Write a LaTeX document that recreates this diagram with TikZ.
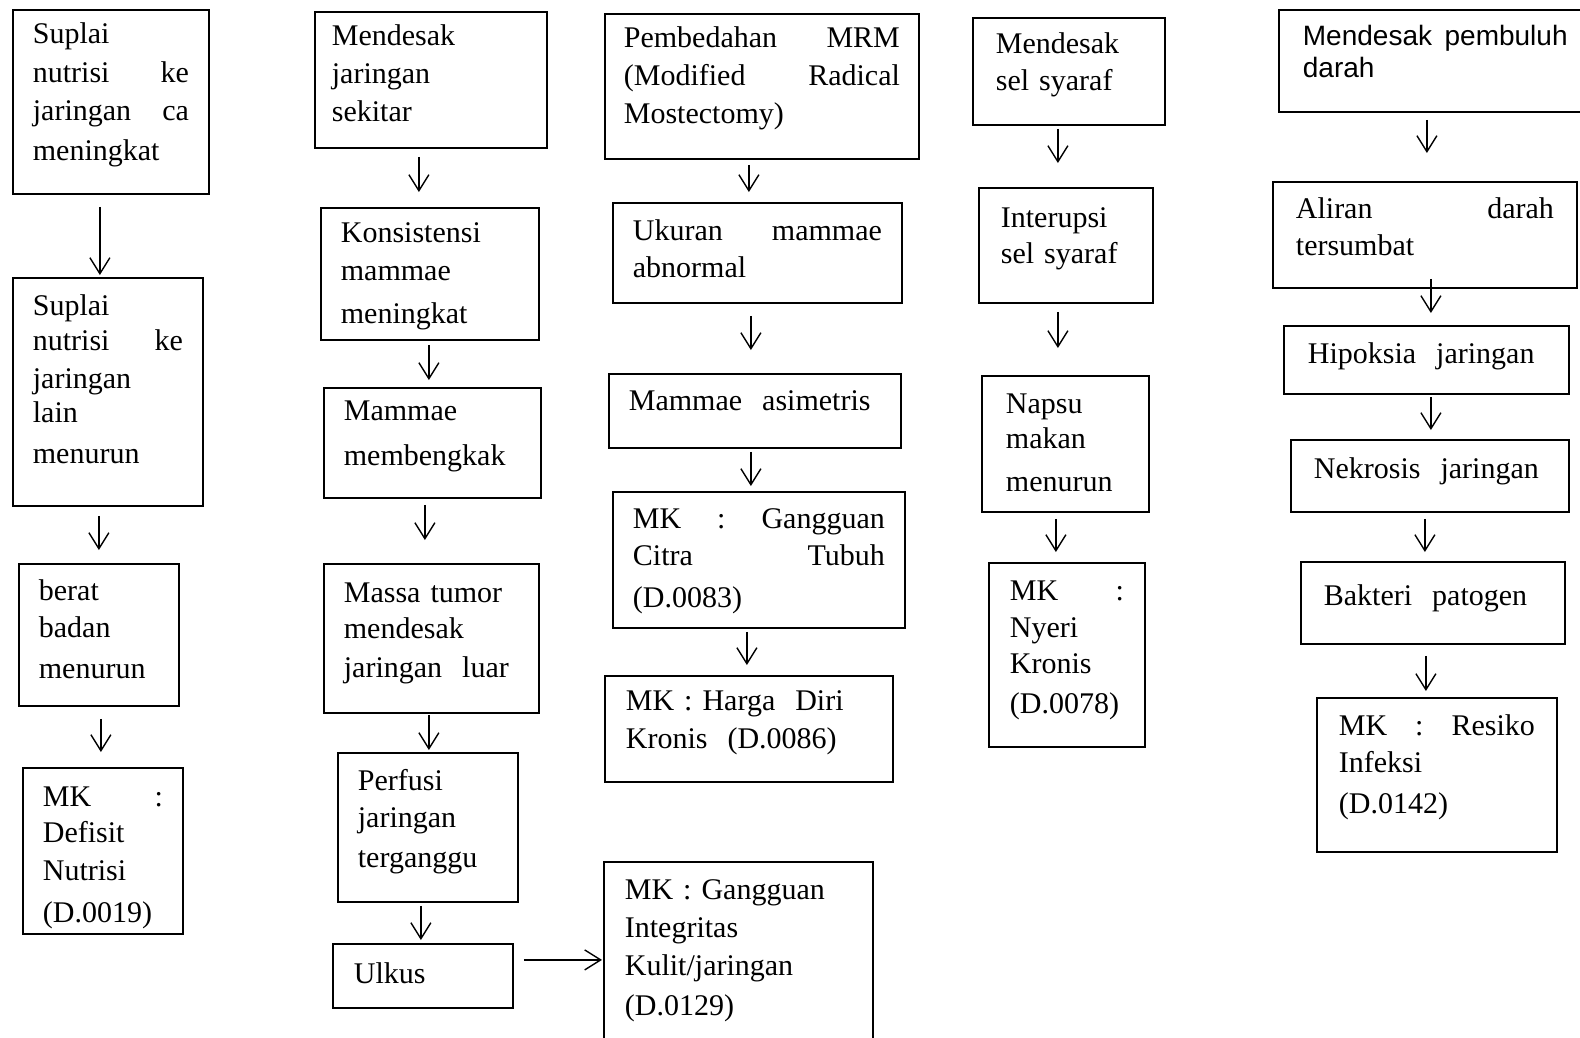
\documentclass[tikz,border=0pt]{standalone}
\usepackage{fontspec}
\setmainfont{Liberation Serif}
\newfontfamily\arialfont{Liberation Sans}
\usetikzlibrary{arrows.meta, calc}

% stretch for justified lines
\newcommand\gap{\hskip 0pt plus 1filll\relax}
% vertical arrow between two stacked boxes
\newcommand\flow[5]{\draw[arr] ($(#1.south)+(#3,#4)$) -- ($(#1.south |- #2.north)+(#3,-#5)$);}

\tikzset{
  card/.style={draw, line width=1.8pt, anchor=north west, inner ysep=0pt, align=left,
    font=\fontsize{30}{38}\selectfont},
  arr/.style={-{Straight Barb[length=16pt,width=20pt]}, line width=1.4pt},
}

\begin{document}
\begin{tikzpicture}[x=1pt, y=-1pt]
  \fill[white] (0,0) rectangle (1580,1037);
  \useasboundingbox (0,0) rectangle (1580,1037);

  % column 1
  \node[card, inner xsep=20pt, text width=156pt, text height=34pt, text depth=150pt] (suplai1) at (12,9)
    {Suplai\\[1pt] nutrisi \gap ke\\ jaringan \gap ca\\[2pt] meningkat};
  \node[card, inner xsep=20pt, text width=150pt, text height=38pt, text depth=190pt] (suplai2) at (12,277)
    {Suplai\\[-3pt] nutrisi \gap ke\\ jaringan\\[-4pt] lain\\[3pt] menurun};
  \node[card, inner xsep=20pt, text width=120pt, text height=37pt, text depth=105pt] (berat) at (18,563)
    {berat\\[-1pt] badan\\[3pt] menurun};
  \node[card, inner xsep=20pt, text width=120pt, text height=39pt, text depth=127pt] (defisit) at (22,767)
    {MK \gap :\\[-2pt] Defisit\\ Nutrisi\\[4pt] (D.0019)};

  % column 2
  \node[card, inner xsep=17pt, text width=198pt, text height=34pt, text depth=102pt] (desakjar) at (314,11)
    {Mendesak\\ jaringan\\ sekitar};
  \node[card, inner xsep=20pt, text width=178pt, text height=35pt, text depth=97pt] (konsist) at (320,207)
    {Konsistensi\\ mammae\\[5pt] meningkat};
  \node[card, inner xsep=20pt, text width=177pt, text height=33pt, text depth=77pt] (bengkak) at (323,387)
    {Mammae\\[7pt] membengkak};
  \node[card, inner xsep=20pt, text width=175pt, text height=39pt, text depth=110pt] (massa) at (323,563)
    {Massa tumor\\[-2pt] mendesak\\[1pt] jaringan\ \ luar};
  \node[card, inner xsep=20pt, text width=140pt, text height=38pt, text depth=111pt] (perfusi) at (337,752)
    {Perfusi\\[-1pt] jaringan\\[2pt] terganggu};
  \node[card, inner xsep=21pt, text width=138pt, text height=40pt, text depth=24pt] (ulkus) at (332,943)
    {Ulkus};
  \node[card, inner xsep=21pt, text width=227pt, text height=38pt, text depth=161pt] (integ) at (603,861)
    {MK : Gangguan\\ Integritas\\ Kulit/jaringan\\[2pt] (D.0129)};

  % column 3
  \node[card, inner xsep=19pt, text width=276pt, text height=34pt, text depth=111pt] (mrm) at (604,13)
    {Pembedahan \gap MRM\\ (Modified \gap Radical\\ Mostectomy)};
  \node[card, inner xsep=20pt, text width=249pt, text height=38pt, text depth=62pt] (ukuran) at (612,202)
    {Ukuran \gap mammae\\[-1pt] abnormal};
  \node[card, inner xsep=20pt, text width=252pt, text height=37pt, text depth=37pt] (asimetris) at (608,373)
    {Mammae\ \ asimetris};
  \node[card, inner xsep=20pt, text width=252pt, text height=37pt, text depth=99pt] (citra) at (612,491)
    {MK \gap : \gap Gangguan\\[-1pt] Citra \gap Tubuh\\[4pt] (D.0083)};
  \node[card, inner xsep=21pt, text width=246pt, text height=35pt, text depth=71pt] (hargadiri) at (604,675)
    {MK : Harga\ \ Diri\\ Kronis\ \ (D.0086)};

  % column 4
  \node[card, inner xsep=23pt, text width=146pt, text height=36pt, text depth=71pt] (desaksyaraf) at (972,17)
    {Mendesak\\[-1pt] sel syaraf};
  \node[card, inner xsep=22pt, text width=130pt, text height=40pt, text depth=75pt] (interupsi) at (978,187)
    {Interupsi\\[-2pt] sel syaraf};
  \node[card, inner xsep=24pt, text width=119pt, text height=38pt, text depth=98pt] (napsu) at (981,375)
    {Napsu\\[-3pt] makan\\[5pt] menurun};
  \node[card, inner xsep=21pt, text width=114pt, text height=38pt, text depth=146pt] (nyeri) at (988,562)
    {MK \gap :\\[-1pt] Nyeri\\[-2pt] Kronis\\[2pt] (D.0078)};

  % column 5
  \node[card, inner xsep=24pt, text width=254pt, text height=36pt, text depth=66pt,
    font=\arialfont\fontsize{28}{32}\selectfont] (desakdarah) at (1278,9)
    {\mbox{Mendesak\hspace{0.45em}pembuluh}\\ darah};
  \node[card, inner xsep=23pt, text width=258pt, text height=37pt, text depth=69pt] (aliran) at (1272,181)
    {Aliran \gap darah\\[-1pt] tersumbat};
  \node[card, inner xsep=24pt, text width=237pt, text height=38pt, text depth=30pt] (hipoksia) at (1283,325)
    {Hipoksia\ \ jaringan};
  \node[card, inner xsep=23pt, text width=232pt, text height=39pt, text depth=33pt] (nekrosis) at (1290,439)
    {Nekrosis\ \ jaringan};
  \node[card, inner xsep=23pt, text width=218pt, text height=44pt, text depth=38pt] (bakteri) at (1300,561)
    {Bakteri\ \ patogen};
  \node[card, inner xsep=22pt, text width=196pt, text height=38pt, text depth=116pt] (infeksi) at (1316,697)
    {MK \gap : \gap Resiko\\[-1pt] Infeksi\\[3pt] (D.0142)};

  % arrows
  \flow{suplai1}{suplai2}{-11}{12}{2}
  \flow{suplai2}{berat}{-9}{9}{13}
  \flow{berat}{defisit}{2}{12}{15}
  \flow{desakjar}{konsist}{-12}{8}{15}
  \flow{konsist}{bengkak}{-1}{4}{7}
  \flow{bengkak}{massa}{-7.5}{6}{23}
  \flow{massa}{perfusi}{-2.5}{1}{2}
  \flow{perfusi}{ulkus}{-7}{3}{3}
  \draw[arr] ($(ulkus.east)+(10,-16)$) -- ($(ulkus.east -| integ.west)+(-1,-16)$);
  \flow{mrm}{ukuran}{-13}{5}{10}
  \flow{ukuran}{asimetris}{-6.5}{12}{23}
  \flow{asimetris}{citra}{-4}{3}{5}
  \flow{citra}{hargadiri}{-12}{3}{10}
  \flow{desaksyaraf}{interupsi}{-11}{3}{24}
  \flow{interupsi}{napsu}{-8}{8}{27}
  \flow{napsu}{nyeri}{-9.5}{6}{10}
  \flow{desakdarah}{aliran}{-3}{7}{28}
  \flow{aliran}{hipoksia}{6}{-10}{12}
  \flow{hipoksia}{nekrosis}{4.5}{2}{9}
  \flow{nekrosis}{bakteri}{-5}{6}{9}
  \flow{bakteri}{infeksi}{-7}{11}{6}
\end{tikzpicture}
\end{document}
